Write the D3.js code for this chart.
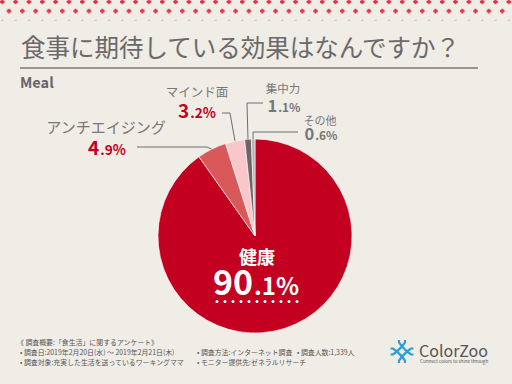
<!DOCTYPE html>
<html>
<head>
<meta charset="utf-8">
<script src="https://cdn.jsdelivr.net/npm/d3@7"></script>
<style>
  html, body { margin: 0; padding: 0; background: #f0ece6; }
  svg { display: block; }
  text { font-family: "Noto Sans CJK JP", "Noto Sans", sans-serif; }
</style>
</head>
<body>
<svg id="chart" width="512" height="384"></svg>
<script>
// data
const categories = ["健康", "アンチエイジング", "マインド面", "集中力", "その他"];
const values = [90.1, 4.9, 3.2, 1.1, 0.6];
const colors = ["#c3001f", "#d9585a", "#f9c6ca", "#6e6466", "#bbb3b5"];
const notes = [
  ["《 調査概要:「食生活」に関するアンケート》"],
  ["• 調査日:2019年2月20日(水) ～ 2019年2月21日(木)", "• 調査方法:インターネット調査", "• 調査人数:1,339人"],
  ["• 調査対象:充実した生活を送っているワーキングママ", "• モニター提供先:ゼネラルリサーチ"]
];

const svg = d3.select("#chart");
const W = 512, H = 384;

svg.append("rect").attr("width", W).attr("height", H).attr("fill", "#f0ece6");

// top dotted strip
const defs = svg.append("defs");
const pat = defs.append("pattern")
  .attr("id", "dots")
  .attr("patternUnits", "userSpaceOnUse")
  .attr("width", 13.33)
  .attr("height", 18.6);
[[2.3, 1.8], [9, 11.1]].forEach(([px, py]) => {
  pat.append("rect").attr("x", px - 2.3).attr("y", py - 1).attr("width", 4.6).attr("height", 2).attr("fill", "#e02a45");
  pat.append("rect").attr("x", px - 1).attr("y", py - 2.3).attr("width", 2).attr("height", 4.6).attr("fill", "#e02a45");
});
svg.append("rect").attr("x", 0).attr("y", 0).attr("width", W).attr("height", 15).attr("fill", "url(#dots)");
svg.append("g").selectAll("rect")
  .data(d3.range(0, W, 13.33))
  .join("rect")
  .attr("x", (d) => d + 1.2).attr("y", 19.8).attr("width", 2.5).attr("height", 1)
  .attr("fill", "#f0a8b0");

// title
svg.append("text")
  .attr("x", 21).attr("y", 57)
  .attr("font-size", 24.5).attr("fill", "#6a6a6a")
  .text("食事に期待している効果はなんですか？");
svg.append("line")
  .attr("x1", 20).attr("x2", 478).attr("y1", 68).attr("y2", 68)
  .attr("stroke", "#7a7a7a").attr("stroke-width", 1.5);

svg.append("text")
  .attr("x", 20).attr("y", 88)
  .attr("font-size", 14.5).attr("font-weight", "bold").attr("fill", "#666")
  .attr("font-family", "Roboto, sans-serif")
  .text("Meal");

// pie
const cx = 255, cy = 236, r = 97;
const pie = d3.pie().sort(null).value((d) => d.v);
const arcs = pie(categories.map((c, i) => ({ c, v: values[i], col: colors[i] })));
const arc = d3.arc().innerRadius(0).outerRadius(r);
const edge = d3.arc().innerRadius(r).outerRadius(r);

const g = svg.append("g").attr("transform", `translate(${cx},${cy})`);
g.selectAll("path")
  .data(arcs)
  .join("path")
  .attr("d", arc)
  .attr("fill", (d) => d.data.col)
  .attr("stroke", "#ffffff")
  .attr("stroke-width", 0.6);

// outside labels
const labelPos = {
  "アンチエイジング": { nx: 106, ny: 133, px: 107, py: 155, size: 15, elbow: [207, 147], end: [137, 147] },
  "マインド面": { nx: 197, ny: 97, px: 197, py: 118, size: 12.5, elbow: [230, 113], end: [222, 113] },
  "集中力": { nx: 283, ny: 93, px: 284, py: 112, size: 11.5, elbow: [247, 103], end: [263, 103] },
  "その他": { nx: 320, ny: 125, px: 321, py: 140, size: 11, elbow: [253, 132], end: [298, 132] }
};

const pctParts = (v) => {
  const s = v.toFixed(1).split(".");
  return [s[0], "." + s[1] + "%"];
};

arcs.slice(1).forEach((d) => {
  const p = labelPos[d.data.c];
  const [ex, ey] = edge.centroid(d);
  const red = d.data.v > 2;
  svg.append("path")
    .attr("d", d3.line()([[cx + ex, cy + ey], p.elbow, p.end]))
    .attr("fill", "none").attr("stroke", "#6e6e6e").attr("stroke-width", 1);
  svg.append("text")
    .attr("x", p.nx).attr("y", p.ny)
    .attr("text-anchor", "middle")
    .attr("font-size", p.size).attr("fill", "#777")
    .text(d.data.c);
  const parts = pctParts(d.data.v);
  const big = red ? 19 : 16.5;
  const t = svg.append("text")
    .attr("x", p.px).attr("y", p.py)
    .attr("text-anchor", "middle")
    .attr("font-family", "Lato, sans-serif")
    .attr("font-weight", "bold")
    .attr("fill", red ? "#c3001f" : "#777");
  t.append("tspan").attr("font-size", big).text(parts[0]);
  t.append("tspan").attr("font-size", big * 0.72).attr("dx", 1).text(parts[1]);
});

// inside label
const main = arcs[0];
svg.append("text")
  .attr("x", 257).attr("y", 264)
  .attr("text-anchor", "middle")
  .attr("font-size", 18).attr("font-weight", "bold").attr("fill", "#fff")
  .text(main.data.c);
const mp = pctParts(main.data.v);
const mt = svg.append("text")
  .attr("x", 256).attr("y", 295)
  .attr("text-anchor", "middle")
  .attr("font-family", "Lato, sans-serif")
  .attr("font-weight", "bold").attr("fill", "#fff");
mt.append("tspan").attr("font-size", 34).text(mp[0]);
mt.append("tspan").attr("font-size", 24).attr("dx", 1).text(mp[1]);
svg.append("g").selectAll("circle")
  .data(d3.range(11))
  .join("circle")
  .attr("cx", (i) => 217 + i * 8).attr("cy", 301.5).attr("r", 1.5)
  .attr("fill", "#fff");

// footnotes
const colX = [20, 197, 297];
notes.forEach((row, ri) => {
  row.forEach((s, ci) => {
    svg.append("text")
      .attr("x", ri === 0 ? 17 : colX[ci]).attr("y", 345 + ri * 10)
      .attr("font-size", 6.9).attr("fill", "#555")
      .text(s);
  });
});

// logo
const logo = svg.append("g").attr("transform", "translate(402,351.5)");
const blue = "#2a9fd8";
logo.append("path")
  .attr("d", "M0,-5 L5,0 L0,5 L-5,0 Z")
  .attr("fill", "none").attr("stroke", blue).attr("stroke-width", 2.4);
[0, 90, 180, 270].forEach((a) => {
  logo.append("path")
    .attr("transform", `rotate(${a})`)
    .attr("d", "M0,-5 L-3,-9 L-3,-11.5 M0,-5 L3,-9 L3,-11.5")
    .attr("fill", "none").attr("stroke", blue).attr("stroke-width", 2.2);
});
svg.append("text")
  .attr("x", 419).attr("y", 357)
  .attr("font-family", "Lato, sans-serif")
  .attr("font-size", 16).attr("fill", "#555")
  .text("ColorZoo");
svg.append("text")
  .attr("x", 420).attr("y", 363)
  .attr("font-family", "Lato, sans-serif")
  .attr("font-size", 4.6).attr("fill", "#555")
  .text("Connect colors to shine through");
</script>
</body>
</html>
